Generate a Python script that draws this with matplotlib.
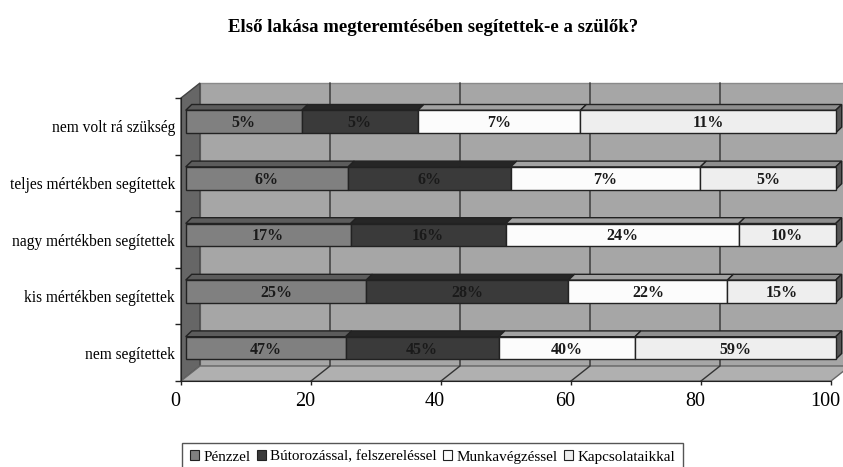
import numpy as np
import matplotlib
matplotlib.use("Agg")
import matplotlib.pyplot as plt
from matplotlib.patches import Polygon, Patch, Rectangle
from matplotlib.transforms import ScaledTranslation

plt.rcParams['font.family'] = ['Liberation Serif']

categories = ["nem segítettek", "kis mértékben segítettek", "nagy mértékben segítettek",
              "teljes mértékben segítettek", "nem volt rá szükség"]
series = ["Pénzzel", "Bútorozással, felszereléssel", "Munkavégzéssel", "Kapcsolataikkal"]
penzzel = [47, 25, 17, 6, 5]
butor = [45, 28, 16, 6, 5]
munka = [40, 22, 24, 7, 7]
kapcsolat = [59, 15, 10, 5, 11]
xticks = [0, 20, 40, 60, 80, 100]

front = ["#808080", "#3a3a3a", "#fcfcfc", "#eeeeee"]
tops = ["#5c5c5c", "#262626", "#a2a2a2", "#8e8e8e"]
W, H = 843, 467

fig = plt.figure(figsize=(W / 100, H / 100), dpi=100)
# elülső sík pixelben: x 181-831, y 98-381
ax = fig.add_axes([181 / W, 1 - 381 / H, 650 / W, 283 / H])
ax.set_xlim(0, 100)
ax.set_ylim(-0.5, 4.5)
px = 100 / 650
py = 5 / 283
edge = "#222222"

# fal, padló
dx = 19 * px
dy = 15 * py
ax.add_patch(Polygon([(dx, 4.5 + dy), (dx + 100, 4.5 + dy), (dx + 100, -0.5 + dy), (dx, -0.5 + dy)],
                     fc="#a6a6a6", ec="#8a8a8a", lw=1, clip_on=False, zorder=1))
ax.add_patch(Polygon([(0, -0.5), (dx, -0.5 + dy), (dx, 4.5 + dy), (0, 4.5)],
                     fc="#666666", ec="#444444", lw=1, clip_on=False, zorder=1))
ax.add_patch(Polygon([(0, -0.5), (100, -0.5), (100 + dx, -0.5 + dy), (dx, -0.5 + dy)],
                     fc="#b0b0b0", ec="#666666", lw=1, clip_on=False, zorder=1.2))
for t in xticks[1:-1]:
    ax.plot([t, t + dx, t + dx], [-0.5, -0.5 + dy, 4.5 + dy], color="#333333", lw=1,
            clip_on=False, zorder=1.5)

# oszlopok
values = np.array([penzzel, butor, munka, kapcsolat], dtype=float)
shares = values / values.sum(axis=0) * 100
ox = 4.7 * px
oy = 4.7 * py
bar_h = 22.6 * py
tx = 6 * px
ty = 5.8 * py
for i, y in enumerate(np.arange(len(categories))):
    left = ox
    for j in range(len(series)):
        w = shares[j][i]
        ytop = y + oy + bar_h / 2
        ax.add_patch(Polygon([(left, ytop), (left + w, ytop), (left + w + tx, ytop + ty), (left + tx, ytop + ty)],
                             fc=tops[j], ec=edge, lw=1, clip_on=False, zorder=3))
        ax.barh(y + oy, w, height=bar_h, left=left, color=front[j], edgecolor=edge, lw=1,
                clip_on=False, zorder=4)
        ax.text(left + w / 2, y + oy - 1.5 * py, "%d%%" % values[j][i], ha="center", va="center",
                fontsize=11.5, fontweight="bold", color="#1a1a1a", zorder=5)
        left += w
    ytop = y + oy + bar_h / 2
    ybot = y + oy - bar_h / 2
    ax.add_patch(Polygon([(left, ytop), (left + tx, ytop + ty), (left + tx, ybot + ty), (left, ybot)],
                         fc="#555555", ec=edge, lw=1, clip_on=False, zorder=3))

for s in ["top", "right"]:
    ax.spines[s].set_visible(False)
for s in ["left", "bottom"]:
    ax.spines[s].set_color("#222222")
    ax.spines[s].set_zorder(2)

ax.set_xticks(xticks)
ax.tick_params(axis="x", labelsize=14.5, length=3, width=1, color="#222222", pad=5)
shift = ScaledTranslation(-6 / 100, 0, fig.dpi_scale_trans)
for lab in ax.get_xticklabels():
    lab.set_transform(lab.get_transform() + shift)
ax.set_yticks(np.arange(-0.5, 5, 1))
ax.set_yticklabels([])
ax.set_yticks(np.arange(len(categories)), categories, minor=True)
ax.tick_params(axis="y", which="major", length=4, width=1, color="#222222")
ax.tick_params(axis="y", which="minor", length=0, pad=4.5, labelsize=11.2)

fig.text(433 / W, 1 - 27 / H, "Első lakása megteremtésében segítettek-e a szülők?",
         ha="center", va="center", fontsize=13.5, fontweight="bold")

# a keret lelóg a kép aljáról, ezért külön téglalap
fig.add_artist(Rectangle((182 / W, -5 / H), 501 / W, 29 / H, transform=fig.transFigure,
                         fc="white", ec="#555555", lw=1))
handles = [Patch(fc=c, ec="#222222", lw=0.8) for c in front]
fig.legend(handles, series, ncol=4, loc="center", bbox_to_anchor=(432.5 / W, 1 - 457 / H),
           fontsize=10.9, frameon=False,
           handlelength=0.6, handleheight=0.6, handletextpad=0.3, columnspacing=0.4,
           borderpad=0, borderaxespad=0)

fig.savefig("out.png", dpi=100)
